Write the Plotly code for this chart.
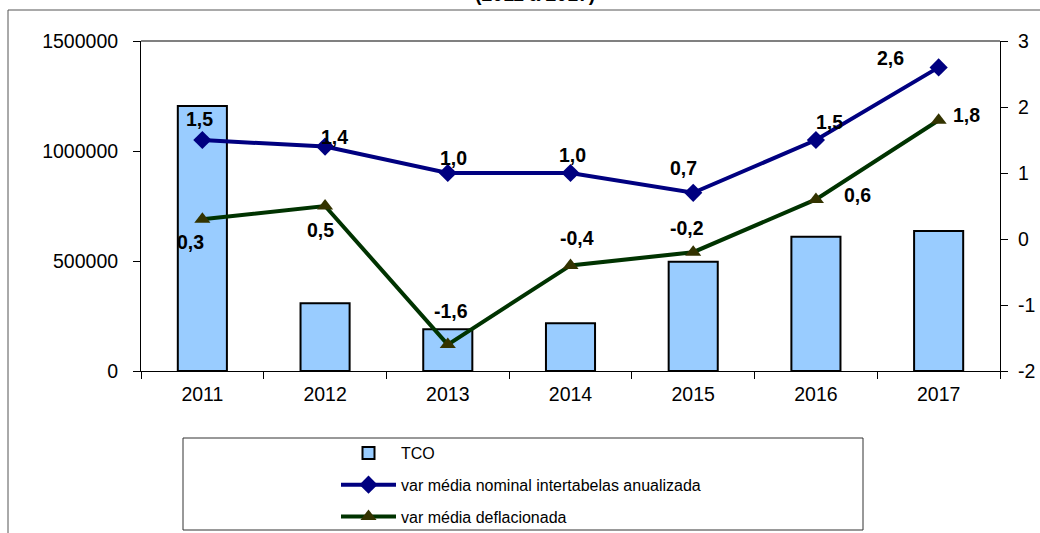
import plotly.graph_objects as go

years = ["2011", "2012", "2013", "2014", "2015", "2016", "2017"]
tco = [1204500, 307700, 189500, 216800, 497000, 610600, 636400]
nominal = [1.5, 1.4, 1.0, 1.0, 0.7, 1.5, 2.6]
deflated = [0.3, 0.5, -1.6, -0.4, -0.2, 0.6, 1.8]
left_ticks = [0, 500000, 1000000, 1500000]
right_ticks = [-2, -1, 0, 1, 2, 3]

# label offsets (pixels) relative to each marker
nominal_dx = [-3, 9, 6, 2, -10, 14, -48]
nominal_dy = [21, 10, 15, 18, 25, 18, 9]
deflated_dx = [-12, -5, 3, 6, -6, 42, 28]
deflated_dy = [-23, -24, 34, 27, 24, 4, 5]

name_tco = "TCO"
name_nom = "var média nominal intertabelas anualizada"
name_def = "var média deflacionada"
title_txt = "(2011 a 2017)"

FONT = "Liberation Sans, Arial, sans-serif"
TICK = 19.5

def fmt(v):
    return f"{v:.1f}".replace(".", ",")

fig = go.Figure()
fig.add_trace(go.Bar(
    x=years, y=tco, name=name_tco, width=0.4,
    marker=dict(color="#99CCFF", line=dict(color="black", width=2)),
    legendgroup="a", yaxis="y",
))
fig.add_trace(go.Scatter(
    x=years, y=nominal, name=name_nom, mode="lines+markers",
    line=dict(color="#000080", width=4),
    marker=dict(symbol="diamond", size=14, color="#000080"),
    legendgroup="b", yaxis="y2", cliponaxis=False,
))
fig.add_trace(go.Scatter(
    x=years, y=deflated, name=name_def, mode="lines+markers",
    line=dict(color="#003300", width=4),
    marker=dict(symbol="triangle-up", size=14, color="#333300"),
    legendgroup="c", yaxis="y2", cliponaxis=False,
))

W, H = 1040, 533
L, R, T, B = 141, 40, 41, 162
pw, ph = W - L - R, H - T - B

def px(x):
    return (x - L) / pw

def py(y):
    return (H - B - y) / ph

label_font = dict(family=FONT, size=19.5, color="black", weight="bold")
annotations = []
for i, (v, dx, dy) in enumerate(zip(nominal, nominal_dx, nominal_dy)):
    annotations.append(dict(x=i, y=v, xref="x", yref="y2", text=fmt(v),
                            showarrow=False, xshift=dx, yshift=dy, font=label_font))
for i, (v, dx, dy) in enumerate(zip(deflated, deflated_dx, deflated_dy)):
    annotations.append(dict(x=i, y=v, xref="x", yref="y2", text=fmt(v),
                            showarrow=False, xshift=dx, yshift=dy, font=label_font))
annotations.append(dict(text=title_txt, xref="paper", yref="paper", x=px(535), y=py(7),
                        xanchor="center", yanchor="bottom", showarrow=False,
                        font=dict(family=FONT, size=19.5, color="black", weight="bold")))

fig.update_layout(
    width=W, height=H,
    margin=dict(l=L, r=R, t=T, b=B, autoexpand=False),
    paper_bgcolor="white", plot_bgcolor="white",
    font=dict(family=FONT, size=TICK, color="black"),
    showlegend=True,
    legend=dict(
        x=px(336), y=py(436), xanchor="left", yanchor="top",
        font=dict(family=FONT, size=16, color="black"),
        bgcolor="rgba(0,0,0,0)", borderwidth=0,
        tracegroupgap=8, itemwidth=55, traceorder="grouped",
    ),
    xaxis=dict(
        type="category", range=[-0.5, len(years) - 0.5],
        showline=True, linecolor="black", linewidth=1,
        ticks="outside", tickson="boundaries", ticklen=7, tickcolor="black",
        ticklabelstandoff=6,
        showgrid=False, tickfont=dict(size=TICK),
    ),
    yaxis=dict(
        range=[0, 1500000], tickvals=left_ticks, ticktext=[str(v) for v in left_ticks],
        showline=True, linecolor="black", linewidth=1, ticks="outside", ticklen=7,
        ticklabelstandoff=11,
        tickcolor="black", showgrid=False, zeroline=False, tickfont=dict(size=TICK),
    ),
    yaxis2=dict(
        range=[-2, 3], overlaying="y", side="right", tickvals=right_ticks,
        ticktext=[str(v) for v in right_ticks],
        showline=True, linecolor="black", linewidth=1, ticks="outside", ticklen=7,
        ticklabelstandoff=6,
        tickcolor="black", showgrid=False, zeroline=False, tickfont=dict(size=TICK),
    ),
    shapes=[
        dict(type="line", xref="paper", yref="paper", x0=0, x1=1, y0=1, y1=1,
             line=dict(color="#808080", width=2), layer="below"),
        dict(type="rect", xref="paper", yref="paper", x0=px(8), x1=px(1050),
             y0=py(545), y1=py(10), line=dict(color="#555555", width=1)),
        dict(type="rect", xref="paper", yref="paper", x0=px(183), x1=px(863),
             y0=py(530), y1=py(438), line=dict(color="#333333", width=1)),
    ],
    annotations=annotations,
)

fig.write_html("out.html", config={"displayModeBar": False},
               post_script="document.body.style.margin='0';")
